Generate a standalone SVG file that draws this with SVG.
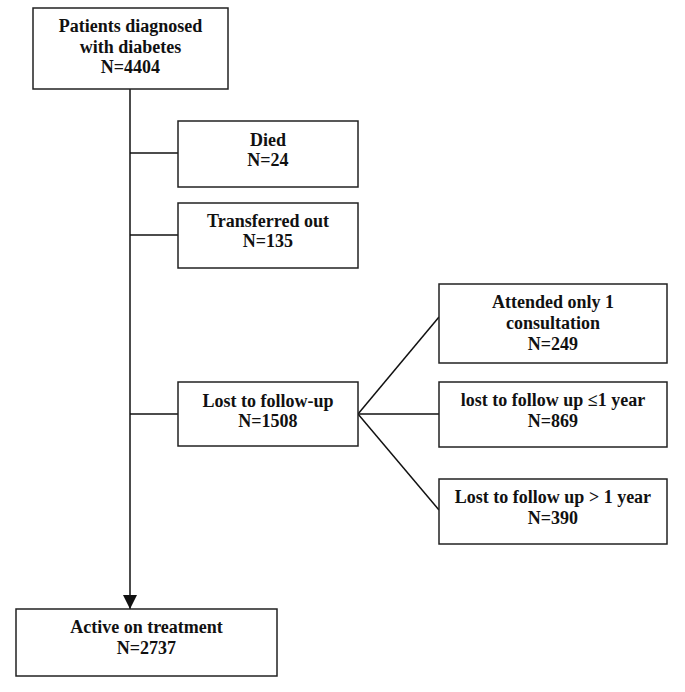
<svg xmlns="http://www.w3.org/2000/svg" width="685" height="692" viewBox="0 0 685 692">
<style>
.box{fill:#fff;stroke:#222;stroke-width:1.5}
.t{font-family:"Liberation Serif","Times New Roman",serif;font-weight:bold;font-size:18px;fill:#111;text-anchor:middle}
.c{stroke:#111;stroke-width:1.5;fill:none}
</style>
<defs>
<marker id="arr" markerWidth="14" markerHeight="14" refX="14" refY="7" orient="auto" markerUnits="userSpaceOnUse">
<path d="M0,0 L14,7 L0,14 Z" fill="#111"/>
</marker>
</defs>
<rect width="685" height="692" fill="#fff"/>
<g id="connectors">
<line class="c" x1="130" y1="89" x2="130" y2="609" marker-end="url(#arr)"/>
<line class="c" x1="130" y1="153" x2="178" y2="153"/>
<line class="c" x1="130" y1="235" x2="178" y2="235"/>
<line class="c" x1="130" y1="414" x2="178" y2="414"/>
<line class="c" x1="358" y1="414" x2="439" y2="317"/>
<line class="c" x1="358" y1="414" x2="439" y2="414"/>
<line class="c" x1="358" y1="414" x2="439" y2="510"/>
</g>
<g id="n-start">
<rect class="box" x="33" y="8" width="195" height="81"/>
<text class="t" x="130.5" y="32">Patients diagnosed</text>
<text class="t" x="130.5" y="53">with diabetes</text>
<text class="t" x="130.5" y="73">N=4404</text>
</g>
<g id="n-died">
<rect class="box" x="178" y="121" width="180" height="66"/>
<text class="t" x="268" y="146">Died</text>
<text class="t" x="268" y="166">N=24</text>
</g>
<g id="n-transferred">
<rect class="box" x="178" y="203" width="180" height="65"/>
<text class="t" x="268" y="227">Transferred out</text>
<text class="t" x="268" y="247">N=135</text>
</g>
<g id="n-lost">
<rect class="box" x="178" y="382" width="180" height="64"/>
<text class="t" x="268" y="407">Lost to follow-up</text>
<text class="t" x="268" y="427">N=1508</text>
</g>
<g id="n-attended">
<rect class="box" x="439" y="284" width="228" height="79"/>
<text class="t" x="553" y="308">Attended only 1</text>
<text class="t" x="553" y="329">consultation</text>
<text class="t" x="553" y="350">N=249</text>
</g>
<g id="n-lost1">
<rect class="box" x="439" y="382" width="228" height="65"/>
<text class="t" x="553" y="406">lost to follow up ≤1 year</text>
<text class="t" x="553" y="427">N=869</text>
</g>
<g id="n-lost2">
<rect class="box" x="439" y="479" width="228" height="65"/>
<text class="t" x="553" y="503">Lost to follow up &gt; 1 year</text>
<text class="t" x="553" y="524">N=390</text>
</g>
<g id="n-active">
<rect class="box" x="16" y="609" width="261" height="67"/>
<text class="t" x="146.5" y="633">Active on treatment</text>
<text class="t" x="146.5" y="654">N=2737</text>
</g>
</svg>
